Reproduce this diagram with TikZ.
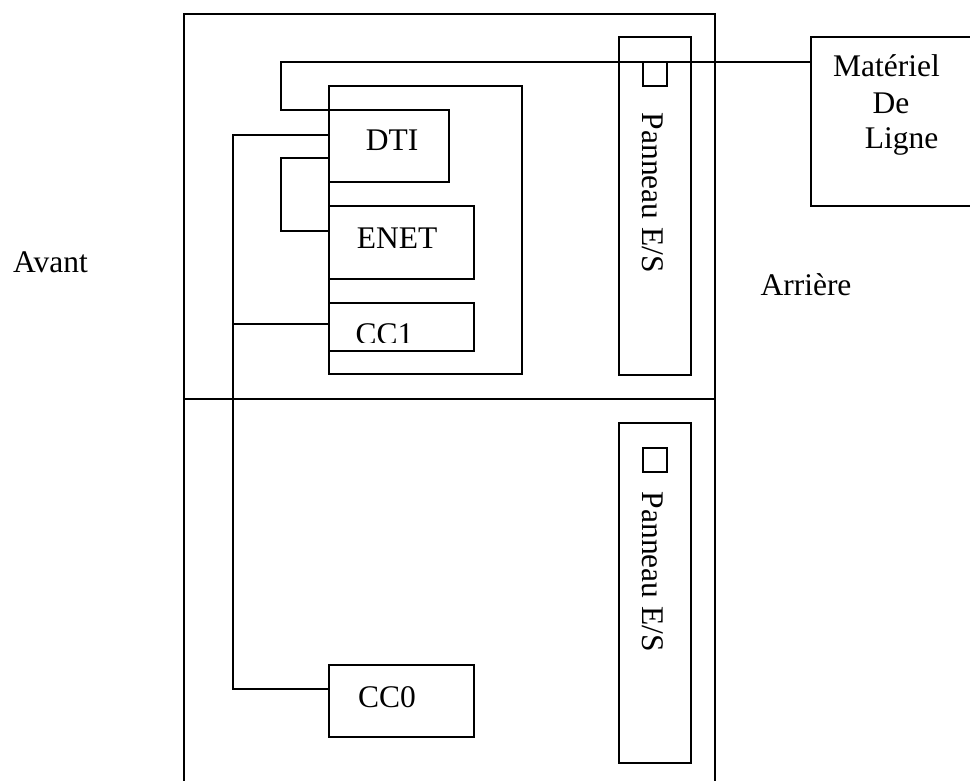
\documentclass[tikz,border=0pt]{standalone}
\usepackage{fontspec}
\setmainfont{Liberation Serif}
\begin{document}
\begin{tikzpicture}[x=1pt,y=-1pt,
  line width=1.8pt,
  box/.style={draw, rectangle, inner sep=0pt, outer sep=0pt, anchor=north west},
  lbl/.style={inner sep=0pt, outer sep=0pt, anchor=base, font=\fontsize{31.5}{36}\selectfont}]
\clip (0,0) rectangle (970,781);
% outer rack (bottom edge outside the picture)
\node[box, minimum width=531pt, minimum height=800pt] (outer) at (184,14) {};
\draw (outer.west |- 0,399) -- (716,399);
% line equipment
\node[box, minimum width=180pt, minimum height=169pt] (mat) at (811,37) {};
% I/O panels
\node[box, minimum width=72pt, minimum height=338pt] (pa) at (619,37) {};
\node[box, minimum width=72pt, minimum height=340pt] (pb) at (619,423) {};
\node[box, minimum width=24pt, minimum height=24pt] (sqa) at (643,62) {};
\node[box, minimum width=24pt, minimum height=24pt] (sqb) at (643,448) {};
% modules
\node[box, minimum width=193pt, minimum height=288pt] (inner) at (329,86) {};
\node[box, minimum width=120pt, minimum height=72pt] (dti) at (329,110) {};
\node[box, minimum width=145pt, minimum height=73pt] (enet) at (329,206) {};
\node[box, minimum width=145pt, minimum height=48pt] (cc1) at (329,303) {};
\node[box, minimum width=145pt, minimum height=72pt] (cc0) at (329,665) {};
% connectors
\draw ([yshift=-25pt]mat.north west) -- ++(-530,0) |- (dti.north west);
\draw ([yshift=-25pt]dti.north west) -- ++(-96,0) |- ([yshift=-24pt]cc0.north west);
\draw ([yshift=-21pt]cc1.north west) -- ++(-96,0);
\draw ([yshift=-48pt]dti.north west) -- ++(-48,0) |- ([yshift=-25pt]enet.north west);
% labels
\node[lbl] (tdti) at (392,151) {DTI};
\node[lbl] (tenet) at (397,248) {ENET};
\begin{scope}
\clip (331,305) rectangle (472,342);
\node[lbl] (tcc1) at (384.5,344) {CC1};
\end{scope}
\node[lbl] (tcc0) at (387,707) {CC0};
\node[lbl] (tavant) at (50.5,272) {Avant};
\node[lbl] (tarr) at (806,295) {Arrière};
\node[lbl] (tm1) at (886.5,77) {Matériel};
\node[lbl] (tm2) at (891,114) {De};
\node[lbl] (tm3) at (901.5,149) {Ligne};
\node[lbl, rotate=-90] (tpa) at (642,193) {Panneau E/S};
\node[lbl, rotate=-90] (tpb) at (642,572) {Panneau E/S};
\end{tikzpicture}
\end{document}
